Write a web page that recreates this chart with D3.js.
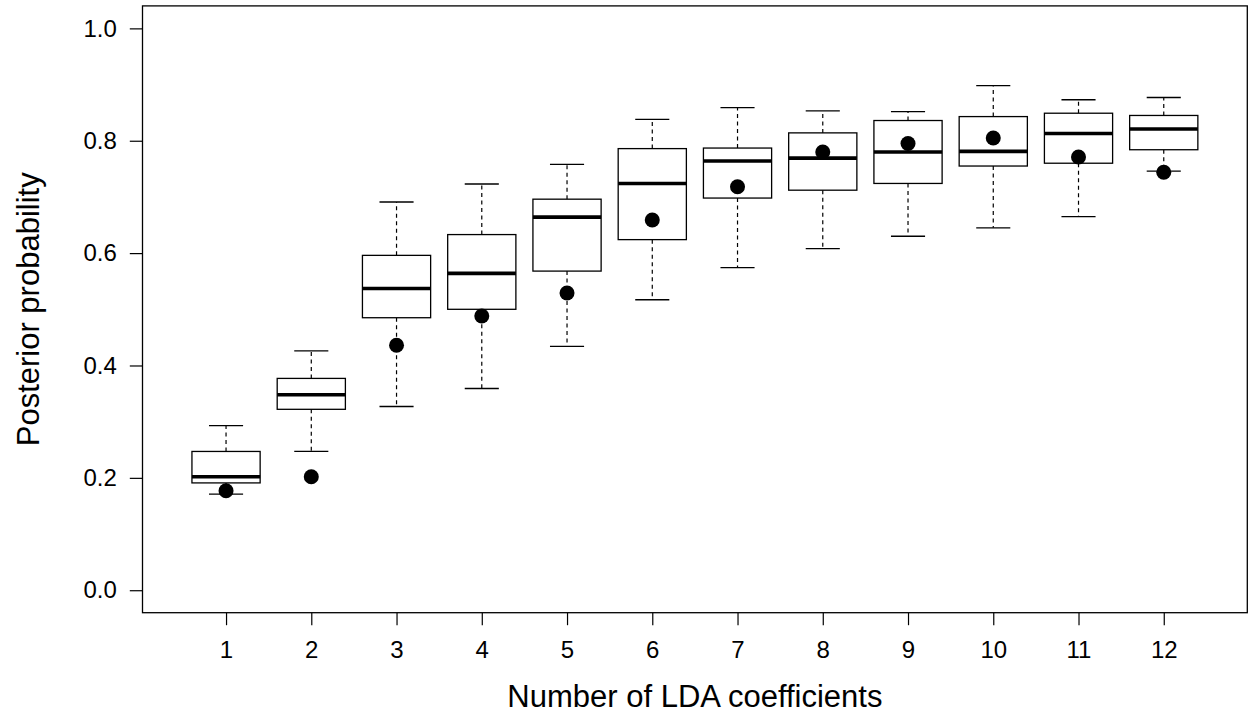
<!DOCTYPE html>
<html>
<head>
<meta charset="utf-8">
<script src="https://cdn.jsdelivr.net/npm/d3@7"></script>
<style>
  body { margin: 0; background: #fff; }
  text { font-family: "Liberation Sans", Arial, sans-serif; fill: #000; }
</style>
</head>
<body>
<div id="chart-area"></div>
<script>
var categories = [1, 2, 3, 4, 5, 6, 7, 8, 9, 10, 11, 12]
var whiskerLow = [0.171, 0.247, 0.327, 0.359, 0.434, 0.517, 0.574, 0.608, 0.630, 0.645, 0.665, 0.746]
var q1 = [0.191, 0.322, 0.485, 0.500, 0.568, 0.624, 0.698, 0.712, 0.724, 0.755, 0.760, 0.784]
var medians = [0.202, 0.348, 0.537, 0.564, 0.664, 0.724, 0.764, 0.769, 0.780, 0.781, 0.813, 0.821]
var q3 = [0.247, 0.377, 0.596, 0.633, 0.696, 0.786, 0.787, 0.814, 0.836, 0.843, 0.849, 0.845]
var whiskerHigh = [0.293, 0.426, 0.691, 0.723, 0.758, 0.838, 0.859, 0.853, 0.852, 0.898, 0.873, 0.877]
var pointValues = [0.177, 0.202, 0.436, 0.488, 0.529, 0.659, 0.718, 0.780, 0.795, 0.805, 0.771, 0.744]
var yTicks = [0, 0.2, 0.4, 0.6, 0.8, 1.0]

var chartWidth = 1249
var chartHeight = 715

var margin = {
  left: 142.5,
  right: 1.7,
  top: 5.9,
  bottom: 102.3,
}

var svg = d3.select("#chart-area")
  .append("svg")
  .attr("width", chartWidth)
  .attr("height", chartHeight)

var data = categories.map(function(c, i) {
  return {
    cat: c,
    lo: whiskerLow[i],
    q1: q1[i],
    med: medians[i],
    q3: q3[i],
    hi: whiskerHigh[i],
    pt: pointValues[i]
  }
})

// R style limits: 0.5..12.5 plus 4% each side, 0..1 plus 4%
var x = d3.scaleLinear()
  .domain([0.02, 12.98])
  .range([margin.left, chartWidth - margin.right])

var y = d3.scaleLinear()
  .domain([-0.04, 1.04])
  .range([chartHeight - margin.bottom, margin.top])

var unit = x(2) - x(1)
var boxW = unit * 0.8
var capW = boxW * 0.5

// axes
var yAxis = d3.axisLeft(y)
  .tickValues(yTicks)
  .tickFormat(d3.format(".1f"))
  .tickSizeOuter(0)
  .tickSize(12.7)
  .tickPadding(13)

var xAxis = d3.axisBottom(x)
  .tickValues(categories)
  .tickFormat(d3.format("d"))
  .tickSizeOuter(0)
  .tickSize(12.5)
  .tickPadding(16)

svg.append("g")
  .attr("transform", "translate(" + margin.left + ",0)")
  .call(yAxis)
  .call(g => g.select(".domain").remove())
  .call(g => g.selectAll("line").attr("stroke", "#000").attr("stroke-width", 1.2))
  .call(g => g.selectAll("text").style("font-size", "24px"))

svg.append("g")
  .attr("transform", "translate(0," + (chartHeight - margin.bottom) + ")")
  .call(xAxis)
  .call(g => g.select(".domain").remove())
  .call(g => g.selectAll("line").attr("stroke", "#000").attr("stroke-width", 1.2))
  .call(g => g.selectAll("text").style("font-size", "24px"))

// whiskers
var boxes = svg.selectAll(".box")
  .data(data)
  .enter()
  .append("g")
  .attr("class", "box")

boxes.append("line")
  .attr("x1", d => x(d.cat)).attr("x2", d => x(d.cat))
  .attr("y1", d => y(d.q3)).attr("y2", d => y(d.hi))
  .attr("stroke", "#000").attr("stroke-width", 1.2)
  .attr("stroke-dasharray", "4,3.5")

boxes.append("line")
  .attr("x1", d => x(d.cat)).attr("x2", d => x(d.cat))
  .attr("y1", d => y(d.q1)).attr("y2", d => y(d.lo))
  .attr("stroke", "#000").attr("stroke-width", 1.2)
  .attr("stroke-dasharray", "4,3.5")

boxes.append("line")
  .attr("x1", d => x(d.cat) - capW / 2).attr("x2", d => x(d.cat) + capW / 2)
  .attr("y1", d => y(d.hi)).attr("y2", d => y(d.hi))
  .attr("stroke", "#000").attr("stroke-width", 1.3)

boxes.append("line")
  .attr("x1", d => x(d.cat) - capW / 2).attr("x2", d => x(d.cat) + capW / 2)
  .attr("y1", d => y(d.lo)).attr("y2", d => y(d.lo))
  .attr("stroke", "#000").attr("stroke-width", 1.3)

boxes.append("rect")
  .attr("x", d => x(d.cat) - boxW / 2)
  .attr("y", d => y(d.q3))
  .attr("width", boxW)
  .attr("height", d => y(d.q1) - y(d.q3))
  .attr("fill", "#fff")
  .attr("stroke", "#000")
  .attr("stroke-width", 1.3)

boxes.append("line")
  .attr("x1", d => x(d.cat) - boxW / 2).attr("x2", d => x(d.cat) + boxW / 2)
  .attr("y1", d => y(d.med)).attr("y2", d => y(d.med))
  .attr("stroke", "#000").attr("stroke-width", 3.6)

boxes.append("circle")
  .attr("cx", d => x(d.cat))
  .attr("cy", d => y(d.pt))
  .attr("r", 7.5)
  .attr("fill", "#000")

// frame
svg.append("rect")
  .attr("x", margin.left)
  .attr("y", margin.top)
  .attr("width", chartWidth - margin.left - margin.right)
  .attr("height", chartHeight - margin.top - margin.bottom)
  .attr("fill", "none")
  .attr("stroke", "#000")
  .attr("stroke-width", 1.3)

// titles
svg.append("text")
  .attr("x", (x(0.02) + x(12.98)) / 2)
  .attr("y", 707)
  .attr("text-anchor", "middle")
  .style("font-size", "31px")
  .text("Number of LDA coefficients")

svg.append("text")
  .attr("transform", "translate(39," + (y(-0.04) + y(1.04)) / 2 + ") rotate(-90)")
  .attr("text-anchor", "middle")
  .style("font-size", "31px")
  .text("Posterior probability")
</script>
</body>
</html>
